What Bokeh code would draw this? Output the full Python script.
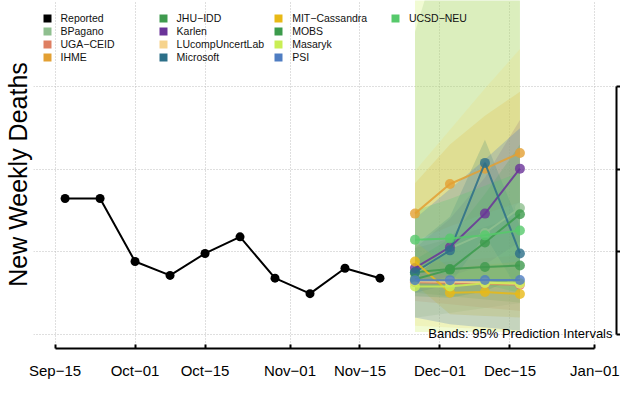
import pandas as pd
from bokeh.plotting import figure
from bokeh.models import Range1d, FixedTicker, LinearAxis, Legend, LegendItem, Label
from bokeh.embed import file_html
from bokeh.resources import INLINE

# ---------------- data ----------------
reported_dates = ["2022-09-17", "2022-09-24", "2022-10-01", "2022-10-08", "2022-10-15",
                  "2022-10-22", "2022-10-29", "2022-11-05", "2022-11-12", "2022-11-19"]
reported_deaths = [2823, 2823, 2440, 2356, 2489, 2590, 2339, 2245, 2399, 2339]

forecast_dates = ["2022-11-26", "2022-12-03", "2022-12-10", "2022-12-17"]

models = ["BPagano", "UGA−CEID", "IHME", "JHU−IDD", "Karlen", "LUcompUncertLab",
          "Microsoft", "MIT−Cassandra", "MOBS", "Masaryk", "PSI", "UCSD−NEU"]
model_colors = ["#8FBF8F", "#DE7F62", "#E3A033", "#3F9A4E", "#6A3399", "#F6D38C",
                "#2C6F88", "#E8B916", "#3C9B4C", "#C9EE55", "#4F7DC2", "#56C96B"]

bpagano_med = [2362, 2520, 2613, 2765]
bpagano_lo = [2099, 2128, 2158, 2187]
bpagano_hi = [3833, 4530, 5300, 6100]

ugaceid_med = [2315, 2310, 2303, 2300]
ugaceid_lo = [2200, 2180, 2160, 2140]
ugaceid_hi = [2420, 2440, 2460, 2480]

ihme_med = [2731, 2911, 3004, 3099]
ihme_lo = [2566, 2654, 2730, 2800]
ihme_hi = [2916, 3150, 3325, 3471]

jhuidd_med = [2375, 2395, 2407, 2416]
jhuidd_lo = [2250, 2230, 2210, 2190]
jhuidd_hi = [2520, 2580, 2650, 2720]

karlen_med = [2401, 2527, 2731, 3004]
karlen_lo = [2300, 2350, 2420, 2560]
karlen_hi = [2520, 2700, 2950, 3300]

lucomp_med = [2320, 2318, 2312, 2305]
lucomp_lo = [2050, 2040, 2030, 2020]
lucomp_hi = [2990, 3240, 3490, 3730]

microsoft_med = [2375, 2508, 3039, 2489]
microsoft_lo = [2250, 2300, 2600, 2250]
microsoft_hi = [2537, 2712, 3179, 2654]

mitcass_med = [2440, 2251, 2255, 2243]
mitcass_lo = [2300, 2120, 2110, 2100]
mitcass_hi = [2560, 2400, 2420, 2440]

mobs_med = [2333, 2391, 2556, 2727]
mobs_lo = [2230, 2220, 2260, 2350]
mobs_hi = [2450, 2580, 2850, 3150]

masaryk_med = [2288, 2288, 2308, 2308]
masaryk_lo = [2012, 2012, 2012, 2012]
masaryk_hi = [4609, 5777, 6944, 8111]

psi_med = [2327, 2327, 2328, 2328]
psi_lo = [2100, 2060, 2040, 2020]
psi_hi = [2700, 2880, 3060, 3250]

ucsdneu_med = [2572, 2580, 2599, 2629]
ucsdneu_lo = [2400, 2350, 2300, 2250]
ucsdneu_hi = [2750, 2820, 2900, 2980]

medians = [bpagano_med, ugaceid_med, ihme_med, jhuidd_med, karlen_med, lucomp_med,
           microsoft_med, mitcass_med, mobs_med, masaryk_med, psi_med, ucsdneu_med]
lowers = [bpagano_lo, ugaceid_lo, ihme_lo, jhuidd_lo, karlen_lo, lucomp_lo,
          microsoft_lo, mitcass_lo, mobs_lo, masaryk_lo, psi_lo, ucsdneu_lo]
uppers = [bpagano_hi, ugaceid_hi, ihme_hi, jhuidd_hi, karlen_hi, lucomp_hi,
          microsoft_hi, mitcass_hi, mobs_hi, masaryk_hi, psi_hi, ucsdneu_hi]

tick_dates = ["2022-09-15", "2022-10-01", "2022-10-15", "2022-11-01",
              "2022-11-15", "2022-12-01", "2022-12-15", "2023-01-01"]
tick_labels = ["Sep−15", "Oct−01", "Oct−15", "Nov−01", "Nov−15", "Dec−01", "Dec−15", "Jan−01"]
y_ticks = [2000, 2500, 3000, 3500]

legend_names = ["Reported"] + models
legend_colors = ["#000000"] + model_colors


def to_ms(dates):
    return [int(v) for v in (pd.to_datetime(dates).astype("int64") // 10**6)]


rep_x = to_ms(reported_dates)
fc_x = to_ms(forecast_dates)
tick_ms = to_ms(tick_dates)
span = tick_ms[-1] - tick_ms[0]

FONT = "Liberation Sans"

p = figure(width=620, height=384, x_axis_type="datetime",
           x_range=Range1d(tick_ms[0] - 0.04 * span, tick_ms[-1] + 0.04 * span),
           y_range=Range1d(1912, 4025),
           output_backend="svg", toolbar_location=None,
           min_border_left=32, min_border_right=3, min_border_top=0, min_border_bottom=36)
p.outline_line_color = None
p.background_fill_color = "white"
p.border_fill_color = "white"

# grids
p.xgrid.ticker = FixedTicker(ticks=tick_ms)
p.ygrid.ticker = FixedTicker(ticks=y_ticks)
for g in (p.xgrid, p.ygrid):
    g.grid_line_color = "#BEBEBE"
    g.grid_line_dash = "1 2"
    g.grid_line_width = 1

# bottom axis
xa = p.xaxis[0]
xa.ticker = FixedTicker(ticks=tick_ms)
xa.major_label_overrides = dict(zip(tick_ms, tick_labels))
xa.bounds = (tick_ms[0], tick_ms[-1])
xa.axis_line_width = 2
xa.major_tick_line_width = 2
xa.major_tick_in = 4
xa.major_tick_out = 0
xa.minor_tick_line_color = None
xa.major_label_text_font = FONT
xa.major_label_text_font_size = "15px"
xa.major_label_text_color = "black"
xa.major_label_standoff = 13

# left axis: only the title
ya = p.yaxis[0]
ya.ticker = FixedTicker(ticks=[])
ya.axis_line_color = None
ya.major_tick_line_color = None
ya.minor_tick_line_color = None
ya.major_label_standoff = 0
ya.major_tick_out = 0
ya.axis_label = "New Weekly Deaths"
ya.axis_label_text_font = FONT
ya.axis_label_text_font_size = "25px"
ya.axis_label_text_font_style = "normal"
ya.axis_label_text_color = "black"
ya.axis_label_standoff = 2

# right axis (its labels fall outside the picture)
ra = LinearAxis(ticker=FixedTicker(ticks=y_ticks), bounds=(y_ticks[0], y_ticks[-1]),
                major_label_overrides={t: "" for t in y_ticks}, major_label_standoff=0,
                major_tick_in=0, major_tick_out=4, minor_tick_line_color=None,
                axis_line_width=2, major_tick_line_width=2)
p.add_layout(ra, "right")

# prediction bands
for c, lo, hi in zip(model_colors, lowers, uppers):
    p.varea(x=fc_x, y1=lo, y2=hi, fill_color=c, fill_alpha=0.26)

# reported
p.line(rep_x, reported_deaths, line_color="black", line_width=2)
p.scatter(rep_x, reported_deaths, size=9, fill_color="black", line_color=None)

# forecasts
for c, med in zip(model_colors, medians):
    p.line(fc_x, med, line_color=c, line_width=2, line_alpha=0.85)
    p.scatter(fc_x, med, size=10, fill_color=c, fill_alpha=0.8, line_color=None)

# legend swatches: zero-size rects on the series' own data (draw nothing in the plot)
swatches = [p.rect(x=rep_x, y=reported_deaths, width=0, height=0,
                   fill_color=legend_colors[0], line_color=None)]
for c, med in zip(model_colors, medians):
    swatches.append(p.rect(x=fc_x, y=med, width=0, height=0, fill_color=c, line_color=None))

frame_h = 384 - 36
col_x = [8.5, 124.6, 240.2, 356.9]
row_h = 13
top = 11
for k in range(4):
    idx = list(range(4 * k, min(4 * k + 4, len(legend_names))))
    items = [LegendItem(label=legend_names[i], renderers=[swatches[i]]) for i in idx]
    h = row_h * len(items)
    lg = Legend(items=items, location=(col_x[k], frame_h - top - h),
                padding=0, margin=0, spacing=0, border_line_color=None,
                background_fill_alpha=0, glyph_width=10, glyph_height=10,
                label_height=row_h, label_standoff=9,
                label_text_font=FONT, label_text_font_size="10.5px",
                label_text_color="#111111")
    p.add_layout(lg, "center")

p.add_layout(Label(x=579, y=15, x_units="screen", y_units="screen",
                   text="Bands: 95% Prediction Intervals", text_align="right",
                   text_baseline="middle", text_font=FONT, text_font_size="13px",
                   text_color="black"))

open("out.html", "w").write(file_html(p, INLINE))
